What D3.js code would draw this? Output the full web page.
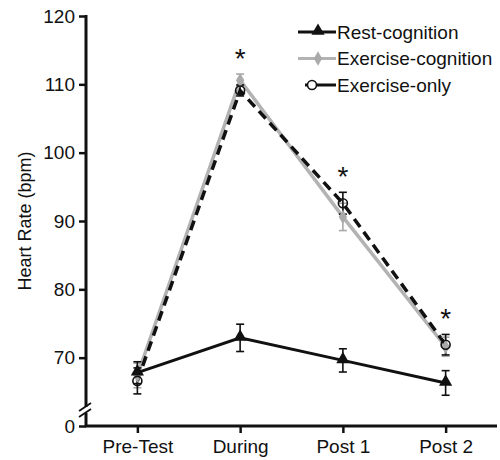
<!DOCTYPE html>
<html>
<head>
<meta charset="UTF-8">
<script src="https://cdn.jsdelivr.net/npm/d3@7"></script>
<style>
    body { margin: 0; background: #fff; }
    svg { display: block; }
    text { font-family: "Liberation Sans", Arial, sans-serif; fill: #111; }
</style>
</head>
<body>
<svg id="chart" width="500" height="460"></svg>
<script>
// data
var phases = ['Pre-Test', 'During', 'Post 1', 'Post 2'];
var restCog = [67.8, 72.9, 69.6, 66.3];
var restCogErr = [1.6, 2.0, 1.7, 1.8];
var exCog = [67.4, 110.6, 90.6, 71.6];
var exCogErr = [1.8, 0.9, 2.0, 1.4];
var exOnly = [66.6, 109.1, 92.6, 71.9];
var exOnlyErr = [1.9, 0.8, 1.6, 1.5];
var starAt = ['During', 'Post 1', 'Post 2'];
var yTicks = [60, 70, 80, 90, 100, 110, 120];

var svg = d3.select('#chart');

var x = d3.scalePoint().domain(phases).range([86, 497]).padding(0.5);
var y = d3.scaleLinear().domain([60, 120]).range([426, 16]);

// y axis (domain drawn by hand to put the break in)
var yAxis = svg.append('g').attr('transform', 'translate(86,0)')
    .call(d3.axisLeft(y).tickValues(yTicks).tickSize(7).tickPadding(4)
        .tickFormat(function(d){ return d === 60 ? '0' : d; }));
yAxis.select('.domain').remove();
yAxis.selectAll('.tick line').attr('stroke', '#111').attr('stroke-width', 2.5);
yAxis.selectAll('.tick text').style('font-size', '19px');

svg.append('line').attr('x1', 86).attr('x2', 86).attr('y1', y(120) - 1).attr('y2', 407)
    .attr('stroke', '#111').attr('stroke-width', 3);
svg.append('line').attr('x1', 86).attr('x2', 86).attr('y1', 413).attr('y2', y(60))
    .attr('stroke', '#111').attr('stroke-width', 3);
[0, 6].forEach(function(o){
    svg.append('line').attr('x1', 79).attr('y1', 411 + o).attr('x2', 91).attr('y2', 403 + o)
        .attr('stroke', '#111').attr('stroke-width', 1.8);
});

// x axis
var xAxis = svg.append('g').attr('transform', 'translate(0,426)')
    .call(d3.axisBottom(x).tickSize(7).tickPadding(7).tickSizeOuter(0));
xAxis.select('.domain').attr('stroke', '#111').attr('stroke-width', 3)
    .attr('d', 'M85,0H497');
xAxis.selectAll('.tick line').attr('stroke', '#111').attr('stroke-width', 2.5);
xAxis.selectAll('.tick text').style('font-size', '19px');

svg.append('text')
    .attr('transform', 'translate(31,221) rotate(-90)')
    .attr('text-anchor', 'middle')
    .style('font-size', '18px')
    .text('Heart Rate (bpm)');

var line = d3.line().x(function(d, i){ return x(phases[i]); }).y(function(d){ return y(d); });

function errorBars(vals, errs, color) {
    var g = svg.append('g').attr('stroke', color).attr('stroke-width', 1.6).attr('fill', 'none');
    vals.forEach(function(v, i){
        var cx = x(phases[i]);
        g.append('line').attr('x1', cx).attr('x2', cx).attr('y1', y(v - errs[i])).attr('y2', y(v + errs[i]));
        [v - errs[i], v + errs[i]].forEach(function(e){
            g.append('line').attr('x1', cx - 4).attr('x2', cx + 4).attr('y1', y(e)).attr('y2', y(e));
        });
    });
}

var tri = d3.symbol().type(d3.symbolTriangle).size(75);
var dia = d3.symbol().type(d3.symbolDiamond).size(60);

// exercise-cognition (grey)
svg.append('path').datum(exCog).attr('d', line)
    .attr('fill', 'none').attr('stroke', '#b3b3b3').attr('stroke-width', 3.5);
// exercise-only (dashed)
svg.append('path').datum(exOnly).attr('d', line)
    .attr('fill', 'none').attr('stroke', '#111').attr('stroke-width', 3.5)
    .attr('stroke-dasharray', '10,6');
// rest-cognition
svg.append('path').datum(restCog).attr('d', line)
    .attr('fill', 'none').attr('stroke', '#111').attr('stroke-width', 3);

errorBars(exCog, exCogErr, '#a8a8a8');
errorBars(restCog, restCogErr, '#111');
errorBars(exOnly, exOnlyErr, '#111');

exCog.forEach(function(v, i){
    svg.append('path').attr('d', dia).attr('fill', '#aaa')
        .attr('transform', 'translate(' + x(phases[i]) + ',' + y(v) + ')');
});
restCog.forEach(function(v, i){
    svg.append('path').attr('d', tri).attr('fill', '#111')
        .attr('transform', 'translate(' + x(phases[i]) + ',' + (y(v) - 1) + ')');
});
exOnly.forEach(function(v, i){
    svg.append('circle').attr('cx', x(phases[i])).attr('cy', y(v)).attr('r', 4.5)
        .attr('fill', 'none').attr('stroke', '#111').attr('stroke-width', 1.6);
});

// significance stars above the highest error bar
starAt.forEach(function(p){
    var i = phases.indexOf(p);
    var top = Math.max(exCog[i] + exCogErr[i], exOnly[i] + exOnlyErr[i]);
    svg.append('text').attr('x', x(p)).attr('y', y(top) - 6)
        .attr('text-anchor', 'middle').style('font-size', '28px').text('*');
});

// legend
var legend = [
    {name: 'Rest-cognition', color: '#111', x1: 298, mark: 'tri'},
    {name: 'Exercise-cognition', color: '#b3b3b3', x1: 298, mark: 'dia'},
    {name: 'Exercise-only', color: '#111', x1: 305, mark: 'circ'}
];
legend.forEach(function(l, i){
    var ly = 32 + i * 26.5;
    svg.append('line').attr('x1', l.x1).attr('x2', 336).attr('y1', ly).attr('y2', ly)
        .attr('stroke', l.color).attr('stroke-width', 3);
    if (l.mark === 'tri') {
        svg.append('path').attr('d', tri).attr('fill', '#111').attr('transform', 'translate(318,' + (ly - 1) + ')');
    } else if (l.mark === 'dia') {
        svg.append('path').attr('d', dia).attr('fill', '#aaa').attr('transform', 'translate(318,' + ly + ')');
    } else {
        svg.append('circle').attr('cx', 312).attr('cy', ly).attr('r', 4.5)
            .attr('fill', '#fff').attr('stroke', '#111').attr('stroke-width', 1.6);
    }
    svg.append('text').attr('x', 337).attr('y', ly).attr('dy', '0.35em')
        .style('font-size', '19px').text(l.name);
});
</script>
</body>
</html>
